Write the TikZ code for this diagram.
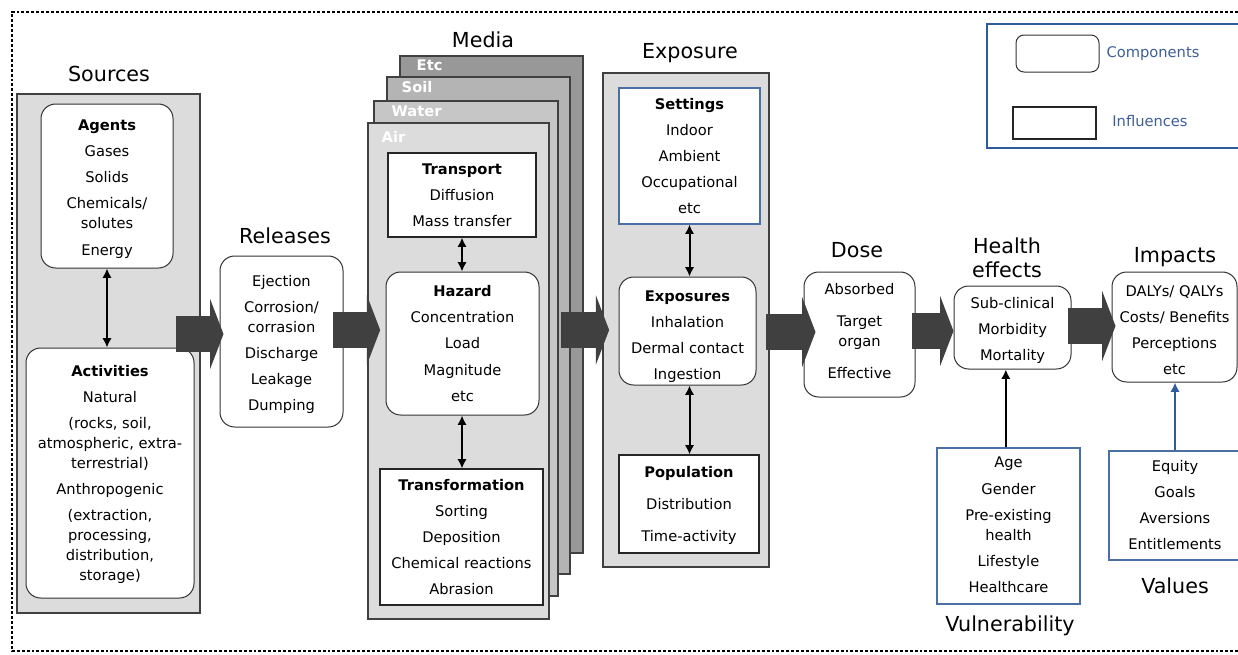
\documentclass[tikz,border=0pt]{standalone}
\usepackage{fontspec}
\setmainfont{DejaVu Sans}
\usetikzlibrary{arrows.meta,fit}
\definecolor{panelgray}{HTML}{DCDCDC}
\definecolor{flowgray}{HTML}{404040}
\definecolor{etcgray}{HTML}{989898}
\definecolor{soilgray}{HTML}{B4B4B4}
\definecolor{watergray}{HTML}{C6C6C6}
\definecolor{boxblue}{HTML}{4A6FA5}
\definecolor{legblue}{HTML}{3D5F95}
\definecolor{legframe}{HTML}{2E5C9A}
\newcommand{\ngap}{\\[4.6pt]}
\begin{document}
\begin{tikzpicture}[x=0.75pt,y=-0.75pt,
  every node/.style={font=\fontsize{11}{15}\selectfont, align=center, inner sep=0pt},
  panel/.style={draw=black!75, fill=panelgray, line width=0.8pt},
  comp/.style={draw=black!80, fill=white, rounded corners=11pt, line width=0.75pt},
  infl/.style={draw=black!85, fill=white, line width=0.85pt},
  bluebox/.style={draw=boxblue, fill=white, line width=0.85pt},
  heading/.style={font=\fontsize{15.5}{18}\selectfont},
  layer/.style={draw=black!75, line width=0.8pt},
  laylabel/.style={anchor=west, text=white, font=\fontsize{11}{13}\selectfont\bfseries},
  biarrow/.style={line width=1.5pt, {Latex[length=7pt,width=7pt]}-{Latex[length=7pt,width=7pt]}},
  uparrow/.style={line width=1.5pt, -{Latex[length=7pt,width=7pt]}},
  flow/.style={line width=27pt, draw=flowgray, -{Triangle[length=10pt,width=52pt]}},
  legtext/.style={text=legblue, font=\fontsize{11}{13}\selectfont},
  frame/.style={line width=2.2pt, dash pattern=on 2.2pt off 1.5pt}]
\useasboundingbox (0,0) rectangle (1238,654);
\draw[frame] (1238,12) -- (12,12) -- (12,651) -- (1238,651);

% legend
\node[draw=legframe, line width=2pt, fit={(987,24) (1245,148)}] (legend) {};
\node[comp, rounded corners=6pt, fit={(1016,35) (1099,72)}] (legcomp) {};
\node[infl, fit={(1013,107) (1096,139)}] (leginfl) {};
\node[legtext] (legcomp-t) at (1153,54) {Components};
\node[legtext] (leginfl-t) at (1150,121) {Influences};

% sources
\node[heading] (sources-t) at (109,74) {Sources};
\node[panel, fit={(17,94) (200,613)}] (srcpanel) {};
\node[comp, fit={(41,104) (173,268)}] (agents) {};
\node (agents-t) at ([yshift=-2.25pt]agents.center) {\textbf{Agents}\ngap Gases\ngap Solids\ngap Chemicals/\\solutes\ngap Energy};
\node[comp, fit={(26,348) (194,598)}] (activities) {};
\node (activities-t) at ([yshift=-1.25pt]activities.center) {\textbf{Activities}\ngap Natural\ngap (rocks, soil,\\atmospheric, extra-\\terrestrial)\ngap Anthropogenic\ngap (extraction,\\processing,\\distribution,\\storage)};
\draw[biarrow] (agents.south) -- (agents.south |- activities.north);

% releases
\node[heading] (releases-t) at (285,236) {Releases};
\node[comp, fit={(220,256) (343,427)}] (releases) {};
\node (releases-l) at ([yshift=-2.25pt]releases.center) {Ejection\ngap Corrosion/\\corrasion\ngap Discharge\ngap Leakage\ngap Dumping};

% media
\node[heading] (media-t) at (483,40) {Media};
\node[layer, fill=etcgray, fit={(400,56) (583,553)}] (layetc) {};
\node[layer, fill=soilgray, fit={(387,77) (570,574)}] (laysoil) {};
\node[layer, fill=watergray, fit={(374,101) (558,596)}] (laywater) {};
\node[layer, fill=panelgray, fit={(368,123) (549,619)}] (layair) {};
\node[laylabel] (layetc-t) at ([shift={(17,10)}]layetc.north west) {Etc};
\node[laylabel] (laysoil-t) at ([shift={(15,11)}]laysoil.north west) {Soil};
\node[laylabel] (laywater-t) at ([shift={(18,11)}]laywater.north west) {Water};
\node[laylabel] (layair-t) at ([shift={(14,14)}]layair.north west) {Air};
\node[infl, fit={(388,153) (536,237)}] (transport) {};
\node (transport-t) at (transport.center) {\textbf{Transport}\ngap Diffusion\ngap Mass transfer};
\node[comp, fit={(386,272) (539,415)}] (hazard) {};
\node (hazard-t) at (hazard.center) {\textbf{Hazard}\ngap Concentration\ngap Load\ngap Magnitude\ngap etc};
\node[infl, fit={(380,469) (543,605)}] (transformation) {};
\node (transformation-t) at (transformation.center) {\textbf{Transformation}\ngap Sorting\ngap Deposition\ngap Chemical reactions\ngap Abrasion};
\draw[biarrow] (transport.south) -- (transport.south |- hazard.north);
\draw[biarrow] (transport.south |- hazard.south) -- (transport.south |- transformation.north);

% exposure
\node[heading] (exposure-t) at (690,53) {Exposure};
\node[panel, fit={(603,73) (769,567)}] (exppanel) {};
\node[bluebox, fit={(619,88) (760,224)}] (settings) {};
\node (settings-t) at (settings.center) {\textbf{Settings}\ngap Indoor\ngap Ambient\ngap Occupational\ngap etc};
\node[comp, fit={(619,277) (756,385)}] (exposures) {};
\node (exposures-t) at ([yshift=-4.25pt]exposures.center) {\textbf{Exposures}\ngap Inhalation\ngap Dermal contact\ngap Ingestion};
\node[infl, fit={(619,455) (759,553)}] (population) {};
\node (population-t) at ([yshift=-1.25pt]population.center) {\textbf{Population}\\[9pt] Distribution\\[9pt] Time-activity};
\draw[biarrow] (settings.south) -- (settings.south |- exposures.north);
\draw[biarrow] (settings.south |- exposures.south) -- (settings.south |- population.north);

% dose, health, impacts
\node[heading] (dose-t) at (857,250) {Dose};
\node[comp, fit={(804,272) (915,397)}] (dose) {};
\node (dose-l) at ([yshift=2.75pt]dose.center) {Absorbed\\[9pt] Target\\organ\\[9pt] Effective};
\node[heading] (health-t) at (1007,258) {Health\\effects};
\node[comp, fit={(954,286) (1071,369)}] (health) {};
\node (health-l) at ([yshift=-2.25pt]health.center) {Sub-clinical\ngap Morbidity\ngap Mortality};
\node[heading] (impacts-t) at (1175,257) {Impacts};
\node[comp, fit={(1112,272) (1237,382)}] (impacts) {};
\node (impacts-l) at ([yshift=-2.25pt]impacts.center) {DALYs/ QALYs\ngap Costs/ Benefits\ngap Perceptions\ngap etc};

% influences below
\node[bluebox, fit={(937,448) (1080,604)}] (vulnerability) {};
\node (vulnerability-l) at ([yshift=0.75pt]vulnerability.center) {Age\ngap Gender\ngap Pre-existing\\health\ngap Lifestyle\ngap Healthcare};
\node[heading] (vulnerability-t) at (1010,626) {Vulnerability};
\node[bluebox, fit={(1109,451) (1241,560)}] (values) {};
\node (values-l) at ([yshift=0.5pt]values.center) {Equity\ngap Goals\ngap Aversions\ngap Entitlements};
\node[heading] (values-t) at (1175,586) {Values};
\draw[uparrow] ([xshift=-2]vulnerability.north) -- ([xshift=-2]vulnerability.north |- health.south);
\draw[uparrow, draw=legframe, fill=legframe] (values.north) -- (values.north |- impacts.south);

% flow arrows
\coordinate (f1) at (176,334);
\coordinate (f2) at (333,330);
\coordinate (f3) at (561,330);
\coordinate (f4) at (766,332);
\coordinate (f5) at (912,331);
\coordinate (f6) at (1068,326);
\draw[flow] (f1) -- ([xshift=3]f1 -| releases.west);
\draw[flow] (f2) -- ([xshift=-4]f2 -| hazard.west);
\draw[flow] (f3) -- ([xshift=5]f3 -| exppanel.west);
\draw[flow] (f4) -- ([xshift=9]f4 -| dose.west);
\draw[flow] (f5) -- (f5 -| health.west);
\draw[flow] (f6) -- ([xshift=3]f6 -| impacts.west);
\end{tikzpicture}
\end{document}
